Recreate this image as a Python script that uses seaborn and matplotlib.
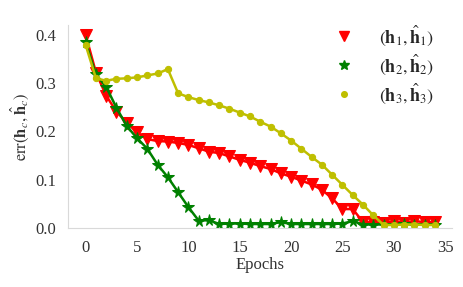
import numpy as np
import pandas as pd
import matplotlib
matplotlib.use('Agg')
import matplotlib.pyplot as plt
from matplotlib.lines import Line2D
import seaborn as sns

epochs = list(range(35))

err_h1 = [0.400, 0.322, 0.274, 0.241, 0.218, 0.198, 0.184, 0.180, 0.179, 0.176,
          0.172, 0.165, 0.158, 0.155, 0.148, 0.141, 0.135, 0.128, 0.122, 0.113,
          0.106, 0.098, 0.090, 0.079, 0.061, 0.039, 0.039, 0.012, 0.012, 0.010,
          0.014, 0.010, 0.014, 0.012, 0.012]

err_h2 = [0.385, 0.318, 0.292, 0.249, 0.211, 0.186, 0.164, 0.131, 0.105, 0.074,
          0.043, 0.015, 0.016, 0.008, 0.009, 0.009, 0.008, 0.008, 0.008, 0.012,
          0.008, 0.008, 0.008, 0.008, 0.008, 0.009, 0.014, 0.007, 0.007, 0.007,
          0.007, 0.008, 0.007, 0.007, 0.007]

err_h3 = [0.379, 0.310, 0.305, 0.309, 0.310, 0.312, 0.316, 0.320, 0.329, 0.279,
          0.271, 0.265, 0.260, 0.254, 0.247, 0.239, 0.231, 0.220, 0.210, 0.196,
          0.181, 0.164, 0.147, 0.131, 0.110, 0.089, 0.068, 0.048, 0.026, 0.006,
          0.006, 0.007, 0.007, 0.006, 0.006]

labels = [r'$(\mathbf{h}_1, \hat{\mathbf{h}}_1)$',
          r'$(\mathbf{h}_2, \hat{\mathbf{h}}_2)$',
          r'$(\mathbf{h}_3, \hat{\mathbf{h}}_3)$']
colors = ['red', 'green', 'y']
markers = ['v', '*', 'o']
msizes = [8.5, 8.5, 4.5]

sns.set_style('white')
plt.rcParams['font.family'] = ['Liberation Serif', 'DejaVu Serif']
plt.rcParams['mathtext.fontset'] = 'stix'

fig = plt.figure(figsize=(4.64, 2.87), dpi=100)
ax = fig.add_axes([0.147, 0.206, 0.828, 0.706])

handles = []
for vals, c, m, ms, lab in zip([err_h1, err_h2, err_h3], colors, markers, msizes, labels):
    sns.lineplot(ax=ax, x=epochs, y=vals, color=c, marker=m, markersize=ms,
                 markeredgecolor=c, linewidth=1.8, legend=False)
    handles.append(Line2D([], [], color=c, marker=m, markersize=ms * 0.9,
                          markeredgecolor=c, linestyle='', label=lab))

ax.set_ylim(0, 0.42)
ax.set_yticks([0.0, 0.1, 0.2, 0.3, 0.4])
ax.set_xticks([0, 5, 10, 15, 20, 25, 30, 35])
ax.set_xlabel('Epochs', fontsize=12, color='.2', labelpad=1)
ax.set_ylabel(r'$\mathrm{err}(\mathbf{h}_c, \hat{\mathbf{h}}_c)$', fontsize=12, color='.2', labelpad=3)
ax.tick_params(labelsize=12, colors='.2', pad=5)
sns.despine(ax=ax)
for s in ['left', 'bottom']:
    ax.spines[s].set_color('.85')

ax.legend(handles=handles, loc='upper right', bbox_to_anchor=(0.97, 1.045),
          frameon=False, fontsize=13, labelspacing=0.25, handletextpad=0.9,
          borderaxespad=0.0)

fig.savefig('out.png', dpi=100)
